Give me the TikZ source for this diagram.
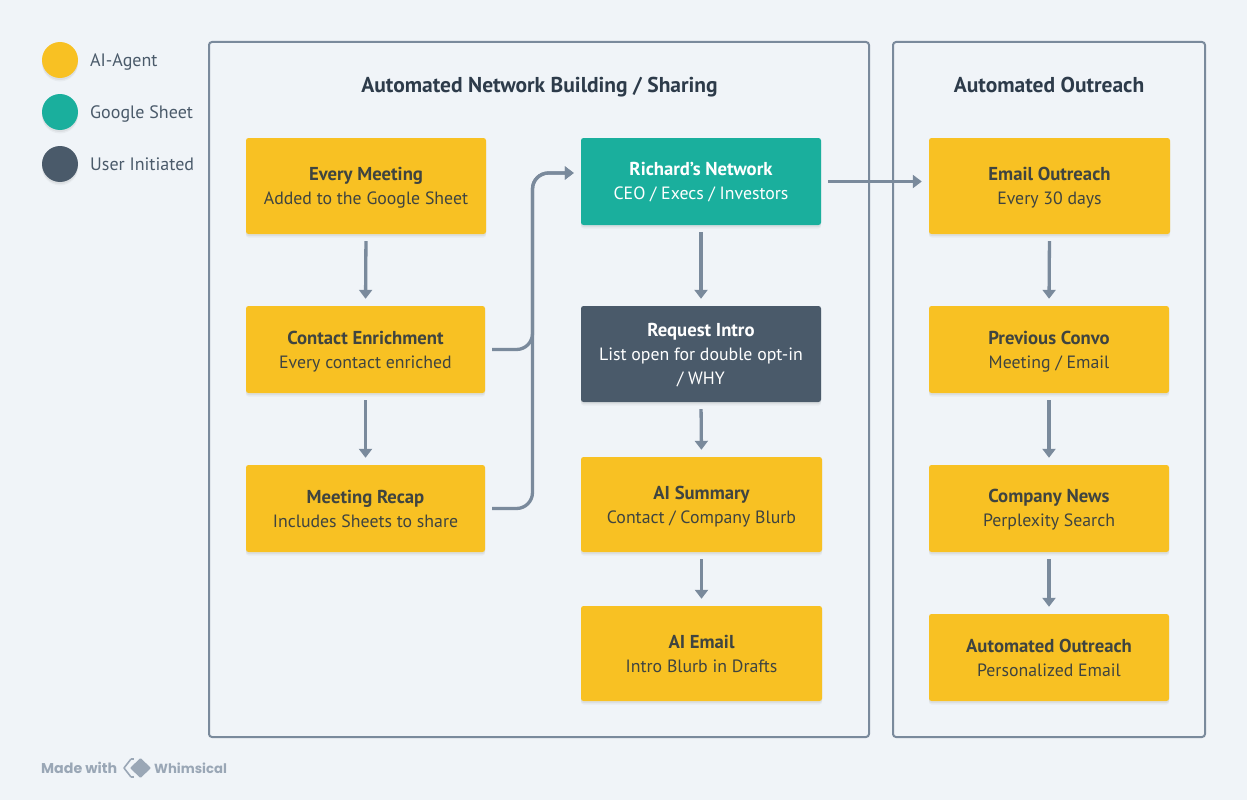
\documentclass[tikz,border=0pt]{standalone}
\usepackage{fontspec}
\setmainfont{PT Sans}
\newfontfamily\logofont{Poppins}
\usetikzlibrary{arrows.meta,shadows,calc}
\definecolor{pagebg}{HTML}{F0F4F8}
\definecolor{amber}{HTML}{F8C123}
\definecolor{tealbox}{HTML}{1AAF9D}
\definecolor{slatebox}{HTML}{4A5A6A}
\definecolor{linecol}{HTML}{7A8A9C}
\definecolor{titlecol}{HTML}{2D3B4A}
\definecolor{inkcol}{HTML}{3F4440}
\definecolor{legendcol}{HTML}{4A5A6A}
\definecolor{logocol}{HTML}{9AA7B6}
% heading line of a box; the optional argument lowers the text block
\newcommand\hd[2][2]{\rule{0pt}{\dimexpr13.5pt+#1pt+#1pt\relax}{\fontsize{18.7}{24}\selectfont\bfseries #2}}
\tikzset{
  softshadow/.style={
    drop shadow={shadow xshift=0pt,shadow yshift=-3.5pt,fill=black,opacity=0.035},
    drop shadow={shadow xshift=0pt,shadow yshift=-2pt,fill=black,opacity=0.05}},
  flowbox/.style={rectangle,rounded corners=2.5pt,inner sep=0pt,align=center,softshadow,
    font=\fontsize{17.8}{24}\selectfont},
  agentbox/.style={flowbox,fill=amber,text=inkcol},
  sheetbox/.style={flowbox,fill=tealbox,text=white},
  userbox/.style={flowbox,fill=slatebox,text=white},
  framebox/.style={draw=linecol,line width=2pt,rounded corners=3pt,fill=none},
  frametitle/.style={anchor=base,inner sep=0pt,text=titlecol,font=\fontsize{21.5}{24}\selectfont\bfseries},
  conn/.style={draw=linecol,line width=3.3pt,-{Triangle[length=9pt,width=13pt]},shorten <=7pt,shorten >=7pt},
  connmerge/.style={conn,rounded corners=16pt},
  legenddot/.style={circle,minimum size=36pt,inner sep=0pt,softshadow},
  legendtext/.style={anchor=base west,inner sep=0pt,text=legendcol,font=\fontsize{18}{22}\selectfont},
}
\begin{document}
\begin{tikzpicture}[x=1pt,y=-1pt]
\useasboundingbox[fill=pagebg] (0,0) rectangle (1247,800);

% legend
\node[legenddot,fill=amber] (l1) at (60,60) {};
\node[legenddot,fill=tealbox] (l2) at (60,112) {};
\node[legenddot,fill=slatebox] (l3) at (60,164) {};
\node[legendtext] (lt1) at (90,66.7) {AI-Agent};
\node[legendtext] (lt2) at (90,118.7) {Google Sheet};
\node[legendtext] (lt3) at (90,170.7) {User Initiated};

% frames
\node[framebox,minimum width=660pt,minimum height=695pt] (f1) at (539,389.5) {};
\node[framebox,minimum width=312pt,minimum height=695pt] (f2) at (1049,389.5) {};
\node[frametitle] (t1) at (539.5,92.7) {Automated Network Building / Sharing};
\node[frametitle] (t2) at (1049,92.7) {Automated Outreach};

% left column
\node[agentbox,minimum width=240pt,minimum height=96pt] (a1) at (366,186) {\hd{Every Meeting}\\Added to the Google Sheet};
\node[agentbox,minimum width=239pt,minimum height=87pt] (a2) at (365.5,349.5) {\hd{Contact Enrichment}\\Every contact enriched};
\node[agentbox,minimum width=239pt,minimum height=87pt] (a3) at (365.5,508.5) {\hd[0]{Meeting Recap}\\Includes Sheets to share};

% middle column
\node[sheetbox,minimum width=240pt,minimum height=87pt] (b1) at (701,181.5) {\hd[0.75]{Richard's Network}\\CEO / Execs / Investors};
\node[userbox,minimum width=240pt,minimum height=96pt] (b2) at (701,354) {\hd[1]{Request Intro}\\List open for double opt-in\\/ WHY};
\node[agentbox,minimum width=241pt,minimum height=95pt] (b3) at (701.5,504.5) {\hd[2]{AI Summary}\\Contact / Company Blurb};
\node[agentbox,minimum width=241pt,minimum height=95pt] (b4) at (701.5,653.5) {\hd[0]{AI Email}\\Intro Blurb in Drafts};

% right column
\node[agentbox,minimum width=241pt,minimum height=96pt] (c1) at (1049.5,186) {\hd{Email Outreach}\\Every 30 days};
\node[agentbox,minimum width=240pt,minimum height=87pt] (c2) at (1049,349.5) {\hd{Previous Convo}\\Meeting / Email};
\node[agentbox,minimum width=240pt,minimum height=87pt] (c3) at (1049,508.5) {\hd[1.5]{Company News}\\Perplexity Search};
\node[agentbox,minimum width=240pt,minimum height=87pt] (c4) at (1049,657.5) {\hd[0]{Automated Outreach}\\Personalized Email};

% connectors
\draw[conn] (a1.south) -- (a2.north);
\draw[conn] (a2.south) -- (a3.north);
\draw[conn] (b1.south) -- (b2.north);
\draw[conn] (b2.south) -- (b3.north);
\draw[conn] (b3.south) -- (b4.north);
\draw[conn] (c1.south) -- (c2.north);
\draw[conn] (c2.south) -- (c3.north);
\draw[conn] (c3.south) -- (c4.north);
\draw[conn] (b1.east) -- (c1.west |- b1.east);
\coordinate (mergein) at ($(b1.west)+(0,-8.5)$);
\coordinate (busx) at (532.5,173);
\draw[connmerge] (a2.east) -- (busx |- a2.east) -- (busx) -- (mergein);
\draw[connmerge] (a3.east) -- (busx |- a3.east) -- (busx) -- (mergein);

% footer
\node[anchor=base west,inner sep=0pt,text=logocol,font=\logofont\fontsize{14.2}{18}\selectfont\bfseries] (m1) at (41,773.5) {Made with};
\node[anchor=base west,inner sep=0pt,text=logocol,font=\logofont\fontsize{13.2}{18}\selectfont\bfseries] (m2) at (154,773.5) {Whimsical};
\fill[logocol,rounded corners=1pt] (140.5,758) -- (151,768) -- (140.5,778) -- (130,768) -- cycle;
\draw[logocol,line width=1.6pt,line join=round] (131,759) -- (124,768) -- (131,777);
\draw[logocol,line width=1.6pt] (131,759) -- (134,759);
\draw[logocol,line width=1.6pt] (131,777) -- (134,777);
\end{tikzpicture}
\end{document}
